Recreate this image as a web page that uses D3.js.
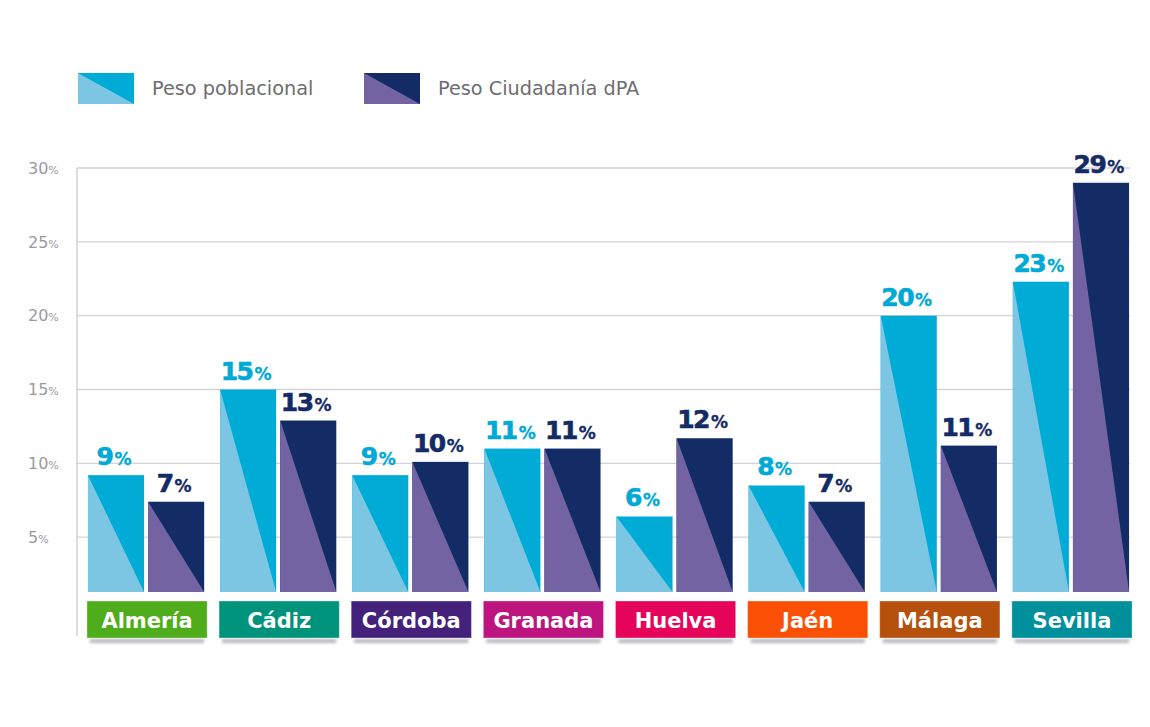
<!DOCTYPE html>
<html>
<head>
<meta charset="utf-8">
<script src="https://cdn.jsdelivr.net/npm/d3@7"></script>
<style>
html,body{margin:0;padding:0;background:#fff;}
svg{display:block;}
</style>
</head>
<body>
<script>
const categories = ["Almería","Cádiz","Córdoba","Granada","Huelva","Jaén","Málaga","Sevilla"];
const categoryColors = ["#4fad1c","#00937c","#44217a","#bd1480","#e6045a","#fa5005","#b5500d","#00909c"];
const seriesNames = ["Peso poblacional","Peso Ciudadanía dPA"];
const pesoPoblacional = [9.2,15,9.2,11,6.4,8.5,20,22.3];
const pesoCiudadania = [7.4,12.9,10.1,11,11.7,7.4,11.2,29];
const labelsPoblacional = ["9","15","9","11","6","8","20","23"];
const labelsCiudadania = ["7","13","10","11","12","7","11","29"];
const yTicks = [5,10,15,20,25,30];

const W = 1150, H = 727;
const svg = d3.select("body").append("svg").attr("width", W).attr("height", H);

const defs = svg.append("defs");
defs.append("filter").attr("id","shadow").attr("x","-10%").attr("y","-200%").attr("width","120%").attr("height","500%")
  .append("feGaussianBlur").attr("stdDeviation", 1.8);

const seriesStyle = [
  {light:"#7cc5e3", dark:"#00acd5", text:"#00a9d6"},
  {light:"#7463a3", dark:"#142c66", text:"#152b66"}
];

const x = d3.scaleBand().domain(categories).range([81, 1138]).paddingInner(0.09).paddingOuter(0.045);
const xs = d3.scaleBand().domain([0,1]).range([1, x.bandwidth() - 3]).paddingInner(0.067);
const y = d3.scaleLinear().domain([0,30]).range([611,168]);
const barBottom = 592;

// grid
const gridG = svg.append("g");
gridG.selectAll("line").data(yTicks).join("line")
  .attr("x1", 77).attr("x2", 1130)
  .attr("y1", d => y(d)).attr("y2", d => y(d))
  .attr("stroke", "#d3d3da").attr("stroke-width", 1.3);
svg.append("line").attr("x1",77).attr("x2",77).attr("y1", y(30)).attr("y2", 636)
  .attr("stroke","#c9c9d0").attr("stroke-width",1.3);

// y tick labels
const tl = svg.append("g").selectAll("text").data(yTicks).join("text")
  .attr("x", 28).attr("y", d => y(d)).attr("dy","0.36em")
  .attr("font-family","DejaVu Sans, sans-serif").attr("font-size",16)
  .attr("fill","#9a9a9e").attr("font-weight", "normal");
tl.append("tspan").text(d => d);
tl.append("tspan").attr("font-size",11).text("%");

// bars
const data = categories.map((c,i) => ({cat:c, vals:[pesoPoblacional[i], pesoCiudadania[i]], labels:[labelsPoblacional[i], labelsCiudadania[i]]}));
const groups = svg.append("g").selectAll("g").data(data).join("g")
  .attr("transform", d => `translate(${x(d.cat)},0)`);

groups.each(function(d){
  const g = d3.select(this);
  d.vals.forEach((v, s) => {
    const bx = xs(s), bw = xs.bandwidth(), top = y(v);
    g.append("rect").attr("x", bx).attr("y", top).attr("width", bw).attr("height", barBottom - top)
      .attr("fill", seriesStyle[s].dark);
    g.append("path").attr("d", `M${bx},${top}L${bx+bw},${barBottom}L${bx},${barBottom}Z`)
      .attr("fill", seriesStyle[s].light);
    const t = g.append("text").attr("x", bx + bw/2 - 2).attr("y", top - 10)
      .attr("text-anchor","middle")
      .attr("font-family","DejaVu Sans, sans-serif").attr("font-weight","bold")
      .attr("font-size", 25).attr("letter-spacing", -1.5)
      .attr("fill", seriesStyle[s].text)
      .attr("stroke", seriesStyle[s].text).attr("stroke-width", 0.6);
    t.append("tspan").text(d.labels[s]);
    t.append("tspan").attr("font-size", 17).attr("letter-spacing", 0).attr("dx", 2).attr("stroke-width", 0.3).text("%");
  });
});

// category boxes
const boxes = svg.append("g").selectAll("g").data(categories).join("g")
  .attr("transform", c => `translate(${x(c)},0)`);
boxes.append("rect").attr("x", 3).attr("y", 639).attr("width", x.bandwidth() - 6).attr("height", 4)
  .attr("fill", "#b8b8c0").attr("filter","url(#shadow)");
boxes.append("rect").attr("x", 0).attr("y", 601).attr("width", x.bandwidth()).attr("height", 37)
  .attr("fill", (c,i) => categoryColors[i]).attr("stroke","#ffffff").attr("stroke-opacity",0.35).attr("stroke-width",1);
boxes.append("text").attr("x", x.bandwidth()/2).attr("y", 627.5)
  .attr("text-anchor","middle").attr("font-family","DejaVu Sans, sans-serif").attr("font-weight","bold")
  .attr("font-size", 21).attr("fill","#ffffff").text(c => c);

// legend
const legendX = [78, 364];
const lg = svg.append("g").selectAll("g").data(seriesNames).join("g")
  .attr("transform", (d,i) => `translate(${legendX[i]},73)`);
lg.append("rect").attr("width",56).attr("height",31).attr("fill",(d,i)=>seriesStyle[i].dark);
lg.append("path").attr("d","M0,0L56,31L0,31Z").attr("fill",(d,i)=>seriesStyle[i].light);
lg.append("text").attr("x",74).attr("y",22).attr("font-family","DejaVu Sans, sans-serif")
  .attr("font-size",19.3).attr("fill","#6d6d72").text(d=>d);
</script>
</body>
</html>
